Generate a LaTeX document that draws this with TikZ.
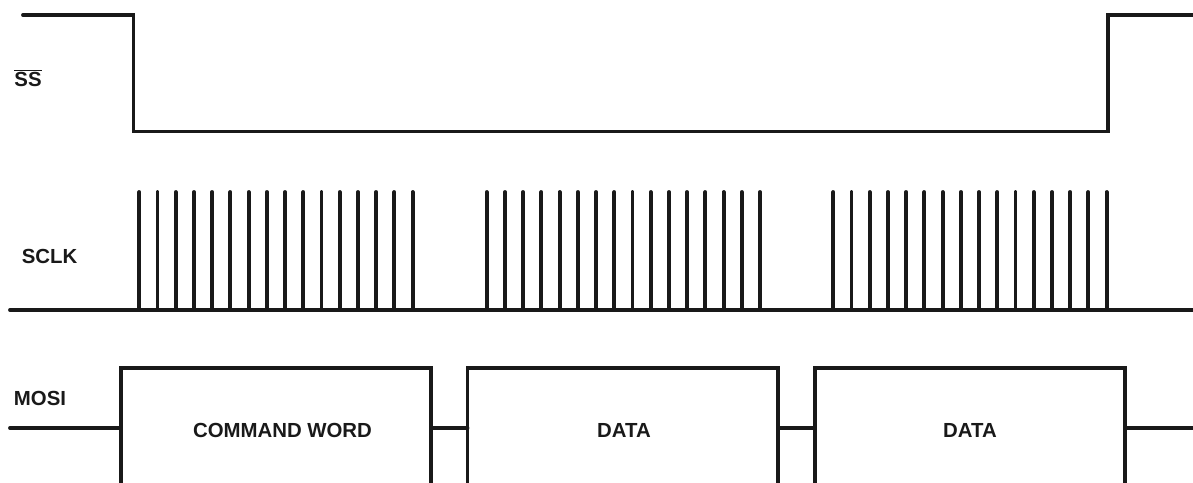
\documentclass[tikz,border=0pt]{standalone}
\usepackage{fontspec}
\setmainfont{Liberation Sans}
\usetikzlibrary{positioning}

\begin{document}
\begin{tikzpicture}
	[x=0.02cm, y=-0.02cm, line width=2.2pt, line cap=round, color=black!90,
	 lbl/.style={font=\fontsize{11.6}{13}\selectfont\bfseries, inner sep=0pt}]
	\useasboundingbox (0,0) rectangle (1193,483);
	% signal names
	\node[lbl] (ss) at (28,78) {$\overline{\mbox{SS}}$};
	\node[lbl] (sclk) at (49.5,256.5) {SCLK};
	\node[lbl] (mosi) at (40,398.5) {MOSI};
	% slave select
	\draw (23,15) -- (133.5,15) -- (133.5,131.5) -- (1108,131.5) -- (1108,15) -- (1193,15);
	% clock
	\draw (10,310) -- (1193,310);
	\foreach \g in {139.3,486.7,833.3}
		\foreach \i in {0,...,15}
			\draw (\g+\i*18.22,310) -- (\g+\i*18.22,192);
	% data line
	\draw (10,428) -- (121,428);
	\draw (121,490) -- (121,368) -- (431,368) -- (431,490);
	\draw (431,428) -- (467.5,428);
	\draw (467.5,490) -- (467.5,368) -- (778,368) -- (778,490);
	\draw (778,428) -- (815,428);
	\draw (815,490) -- (815,368) -- (1125,368) -- (1125,490);
	\draw (1125,428) -- (1193,428);
	\node[lbl] (cmd) at (282.5,430) {COMMAND WORD};
	\node[lbl] (data1) at (624,430) {DATA};
	\node[lbl] (data2) at (970,430) {DATA};
\end{tikzpicture}
\end{document}
